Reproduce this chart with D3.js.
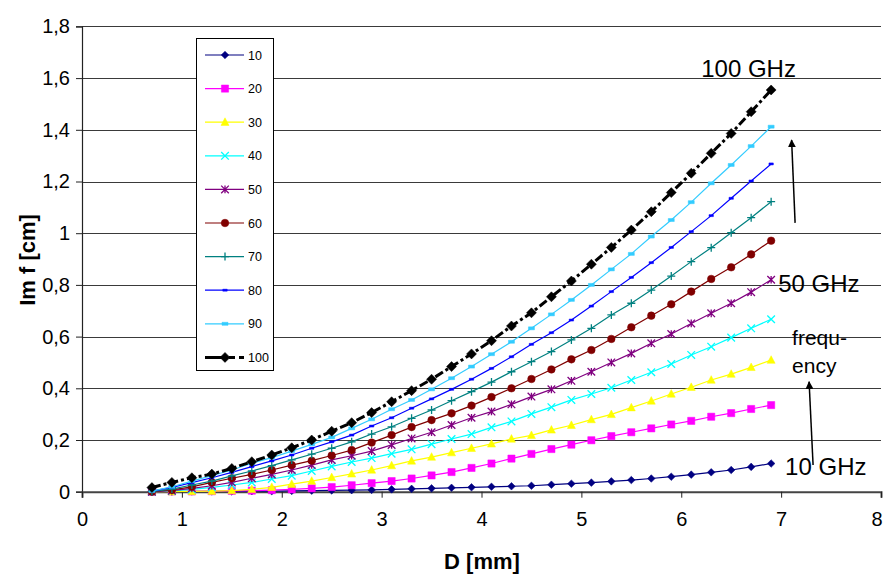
<!DOCTYPE html>
<html><head><meta charset="utf-8">
<script src="https://cdn.jsdelivr.net/npm/d3@7"></script>
<style>
html,body{margin:0;padding:0;background:#fff;}
svg{display:block;font-family:Arial,"Liberation Sans",sans-serif;}
</style></head>
<body><svg id="c" width="883" height="577"></svg>
<script>
const dValues = [0.7,0.9,1.1,1.3,1.5,1.7,1.9,2.1,2.3,2.5,2.7,2.9,3.1,3.3,3.5,3.7,3.9,4.1,4.3,4.5,4.7,4.9,5.1,5.3,5.5,5.7,5.9,6.1,6.3,6.5,6.7,6.9];
const s10  = [0.000,0.000,0.001,0.001,0.001,0.002,0.002,0.003,0.004,0.005,0.006,0.007,0.009,0.011,0.013,0.015,0.017,0.019,0.021,0.023,0.027,0.031,0.035,0.040,0.045,0.051,0.058,0.066,0.075,0.084,0.096,0.109];
const s20  = [0.000,0.001,0.001,0.002,0.003,0.004,0.006,0.009,0.013,0.018,0.025,0.033,0.041,0.051,0.063,0.076,0.092,0.109,0.128,0.146,0.165,0.182,0.199,0.215,0.230,0.245,0.260,0.274,0.290,0.304,0.320,0.335];
const s30  = [0.000,0.000,0.001,0.002,0.004,0.009,0.017,0.029,0.041,0.055,0.069,0.084,0.101,0.119,0.134,0.151,0.168,0.185,0.204,0.218,0.239,0.257,0.279,0.299,0.325,0.351,0.378,0.404,0.432,0.455,0.481,0.509];
const s40  = [0.000,0.003,0.009,0.017,0.026,0.036,0.049,0.062,0.080,0.098,0.115,0.130,0.147,0.164,0.184,0.204,0.223,0.249,0.272,0.301,0.327,0.355,0.378,0.402,0.432,0.462,0.494,0.529,0.561,0.596,0.632,0.667];
const s50  = [0.000,0.004,0.013,0.023,0.036,0.052,0.067,0.084,0.103,0.123,0.139,0.157,0.181,0.206,0.230,0.258,0.286,0.310,0.338,0.368,0.396,0.429,0.464,0.500,0.535,0.574,0.610,0.651,0.690,0.729,0.772,0.820];
const s60  = [0.000,0.007,0.019,0.036,0.052,0.067,0.084,0.103,0.120,0.140,0.161,0.190,0.219,0.250,0.277,0.303,0.333,0.366,0.400,0.436,0.473,0.512,0.548,0.591,0.636,0.681,0.725,0.774,0.823,0.868,0.918,0.971];
const s70  = [0.001,0.010,0.026,0.041,0.061,0.080,0.101,0.123,0.145,0.168,0.193,0.223,0.251,0.284,0.316,0.352,0.387,0.424,0.464,0.503,0.542,0.587,0.632,0.684,0.729,0.780,0.834,0.890,0.944,1.002,1.060,1.122];
const s80  = [0.002,0.017,0.035,0.054,0.075,0.097,0.119,0.142,0.168,0.193,0.219,0.254,0.286,0.323,0.359,0.396,0.435,0.477,0.522,0.570,0.615,0.664,0.718,0.774,0.829,0.886,0.945,1.006,1.068,1.135,1.202,1.268];
const s90  = [0.002,0.019,0.041,0.062,0.084,0.110,0.132,0.157,0.183,0.210,0.245,0.280,0.319,0.355,0.396,0.439,0.484,0.532,0.580,0.632,0.686,0.742,0.800,0.860,0.920,0.987,1.051,1.120,1.193,1.264,1.337,1.412];
const s100 = [0.016,0.036,0.054,0.068,0.090,0.116,0.142,0.170,0.200,0.234,0.267,0.306,0.348,0.391,0.435,0.484,0.533,0.584,0.641,0.692,0.754,0.815,0.880,0.945,1.012,1.083,1.157,1.232,1.309,1.386,1.470,1.554];
const seriesNames = ["10","20","30","40","50","60","70","80","90","100"];
const seriesValues = [s10,s20,s30,s40,s50,s60,s70,s80,s90,s100];
const xTicks = [0,1,2,3,4,5,6,7,8];
const yTicks = [0,0.2,0.4,0.6,0.8,1,1.2,1.4,1.6,1.8];
const yTickLabels = ["0","0,2","0,4","0,6","0,8","1","1,2","1,4","1,6","1,8"];
const annotations = [
  {text:"100 GHz", x:6.2, y:1.604, size:24},
  {text:"50 GHz", x:6.97, y:0.771, size:24},
  {text:"10 GHz", x:7.04, y:0.065, size:24},
  {text:"frequ-", x:7.11, y:0.567, size:21},
  {text:"ency", x:7.11, y:0.459, size:21}
];
const arrows = [
  {x1:7.14, y1:1.04, x2:7.105, y2:1.36},
  {x1:7.32, y1:0.103, x2:7.28, y2:0.425}
];

const styles = [
  {color:"#000080", marker:"diamond", r:3.8},
  {color:"#FF00FF", marker:"square", r:3.6},
  {color:"#FFFF00", marker:"triangle", r:4},
  {color:"#00FFFF", marker:"x", r:3.8},
  {color:"#800080", marker:"asterisk", r:3.8},
  {color:"#800000", marker:"circle", r:3.8},
  {color:"#008080", marker:"plus", r:4},
  {color:"#0000FF", marker:"bar", r:2.2},
  {color:"#33CCFF", marker:"bar2", r:3},
  {color:"#000000", marker:"diamond", r:5, dash:"9,3,3,3", width:3}
];

const svg = d3.select("#c");
const x = d3.scaleLinear().domain([0,8]).range([82,881]);
const y = d3.scaleLinear().domain([0,1.8]).range([491.7,26.4]);

// gridlines
svg.append("g").selectAll("line").data(yTicks.filter(d=>d>0)).join("line")
  .attr("x1",x(0)).attr("x2",x(8)).attr("y1",d=>Math.round(y(d))+0.5).attr("y2",d=>Math.round(y(d))+0.5)
  .attr("stroke","#3a3a3a").attr("stroke-width",1);

// axes
const yAxis = d3.axisLeft(y).tickValues(yTicks).tickFormat((d,i)=>yTickLabels[i]).tickSize(6).tickPadding(6);
const gy = svg.append("g").attr("transform",`translate(${x(0)},0)`).call(yAxis);
gy.select(".domain").attr("stroke","#222").attr("stroke-width",1.2);
gy.selectAll(".tick line").attr("stroke","#222");
gy.selectAll("text").attr("font-size",20).attr("fill","#000").attr("font-family","Arial, 'Liberation Sans', sans-serif");

const xAxis = d3.axisBottom(x).tickValues(xTicks).tickFormat(d3.format("d")).tickSize(6).tickPadding(14);
const gx = svg.append("g").attr("transform",`translate(0,${y(0)})`).call(xAxis);
gx.select(".domain").attr("stroke","#444").attr("stroke-width",2);
gx.selectAll(".tick line").attr("stroke","#222");
gx.selectAll("text").attr("font-size",20).attr("fill","#000").attr("font-family","Arial, 'Liberation Sans', sans-serif");
gx.selectAll(".tick").filter(d=>d===8).select("text").attr("text-anchor","end").attr("dx",1);

// axis titles
svg.append("text").attr("x",482).attr("y",569).attr("text-anchor","middle")
  .attr("font-size",22).attr("font-weight","bold").text("D [mm]");
svg.append("text").attr("transform","translate(35,260) rotate(-90)").attr("text-anchor","middle")
  .attr("font-size",22).attr("font-weight","bold").text("Im f [cm]");

function markerPath(type, r){
  switch(type){
    case "diamond": return `M0,${-r}L${r},0L0,${r}L${-r},0Z`;
    case "square": return `M${-r},${-r}H${r}V${r}H${-r}Z`;
    case "triangle": return `M0,${-r*1.1}L${r},${r*0.8}L${-r},${r*0.8}Z`;
    case "x": return `M${-r},${-r}L${r},${r}M${-r},${r}L${r},${-r}`;
    case "asterisk": return `M${-r},${-r}L${r},${r}M${-r},${r}L${r},${-r}M0,${-r}V${r}`;
    case "plus": return `M${-r},0H${r}M0,${-r}V${r}`;
    case "bar": return `M${-r},-1H${r}V1H${-r}Z`;
    case "bar2": return `M${-r},-1.5H${r}V1.5H${-r}Z`;
    case "circle": return d3.symbol(d3.symbolCircle, Math.PI*r*r)();
  }
}
function drawMarker(g, st, cx, cy){
  const stroked = ["x","asterisk","plus"].includes(st.marker);
  g.append("path").attr("d",markerPath(st.marker, st.r)).attr("transform",`translate(${cx},${cy})`)
    .attr("fill", stroked ? "none" : st.color)
    .attr("stroke", st.color).attr("stroke-width", stroked ? 1.3 : 0.5);
}

const line = d3.line().x(d=>x(d[0])).y(d=>y(d[1]));
seriesValues.forEach((vals,i)=>{
  const st = styles[i];
  const pts = dValues.map((d,j)=>[d, vals[j]]);
  const g = svg.append("g");
  g.append("path").attr("d",line(pts)).attr("fill","none").attr("stroke",st.color)
    .attr("stroke-width", st.width||1.2).attr("stroke-dasharray", st.dash||null);
  pts.forEach(p=>drawMarker(g, st, x(p[0]), y(p[1])));
});

// legend
const lg = svg.append("g");
lg.append("rect").attr("x",196.5).attr("y",38.5).attr("width",77).attr("height",332)
  .attr("fill","#fff").attr("stroke","#000").attr("stroke-width",1);
seriesNames.forEach((name,i)=>{
  const st = styles[i];
  const ly = 55 + i*33.6;
  lg.append("line").attr("x1",205).attr("x2",244).attr("y1",ly).attr("y2",ly)
    .attr("stroke",st.color).attr("stroke-width",st.width||1.2).attr("stroke-dasharray",st.dash? "20,4,6,4":null);
  drawMarker(lg, st, 225, ly);
  lg.append("text").attr("x",248).attr("y",ly+4.5).attr("font-size",12.5).text(name);
});

// annotations
svg.append("g").selectAll("text").data(annotations).join("text")
  .attr("x",d=>x(d.x)).attr("y",d=>y(d.y)).attr("font-size",d=>d.size).attr("fill","#000").text(d=>d.text);

svg.append("defs").append("marker").attr("id","ah").attr("viewBox","0 0 10 10").attr("refX",9).attr("refY",5)
  .attr("markerWidth",8).attr("markerHeight",8).attr("markerUnits","userSpaceOnUse").attr("orient","auto")
  .append("path").attr("d","M0,0L10,5L0,10Z").attr("fill","#000");
svg.append("g").selectAll("line").data(arrows).join("line")
  .attr("x1",d=>x(d.x1)).attr("y1",d=>y(d.y1)).attr("x2",d=>x(d.x2)).attr("y2",d=>y(d.y2))
  .attr("stroke","#000").attr("stroke-width",1.5).attr("marker-end","url(#ah)");
</script></body></html>
